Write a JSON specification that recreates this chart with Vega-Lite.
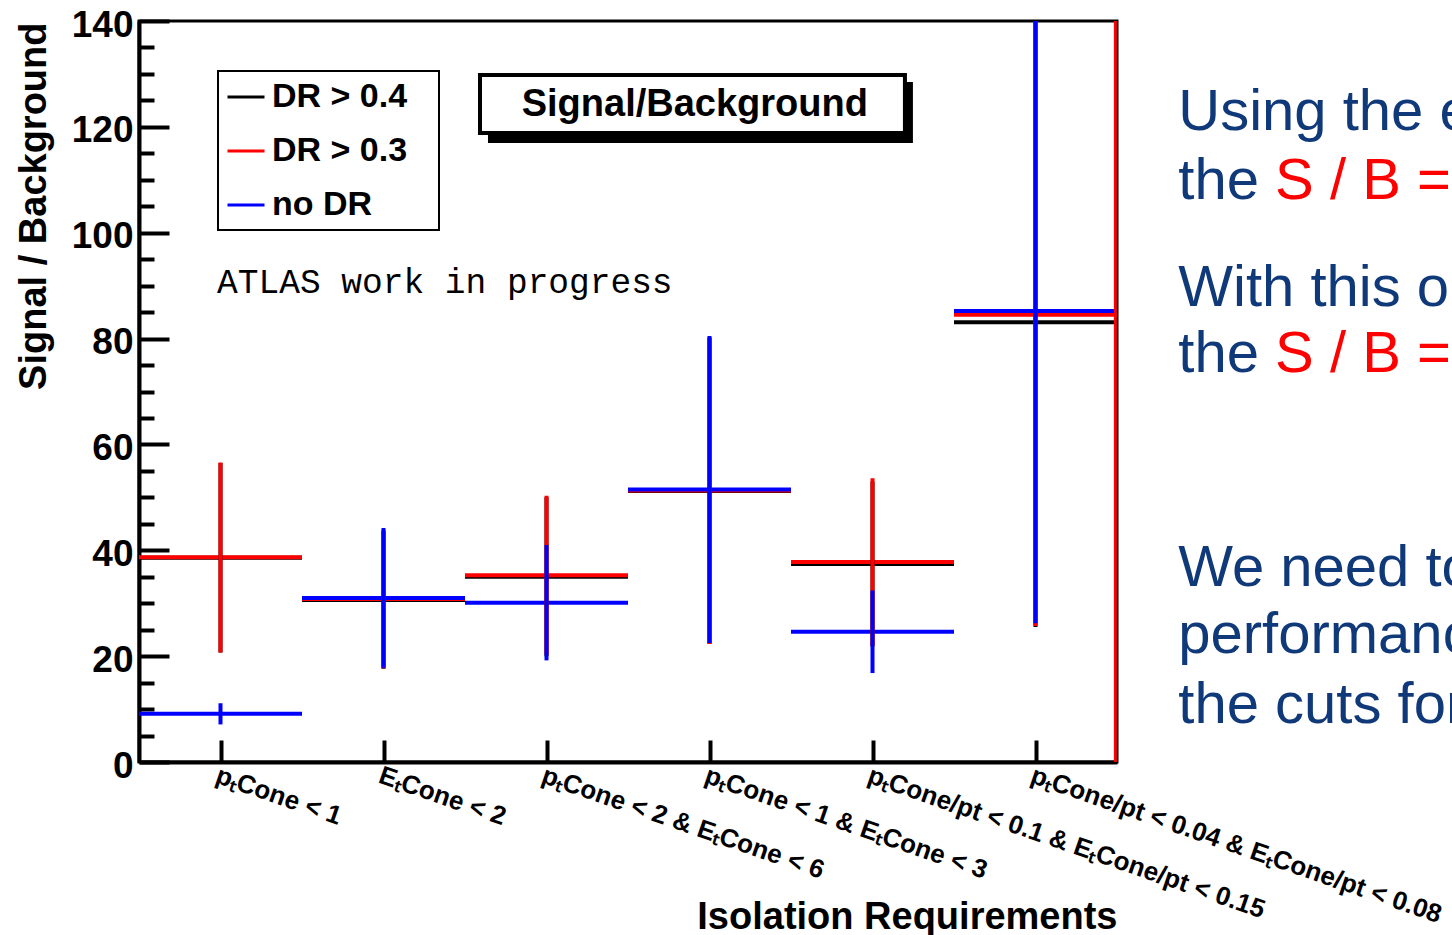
{
  "$schema": "https://vega.github.io/schema/vega-lite/v6.json",
  "width": 978,
  "height": 741,
  "autosize": {"type": "none"},
  "padding": {"left": 139, "top": 21, "right": 335, "bottom": 173},
  "background": "white",
  "config": {
    "view": {"stroke": "black", "strokeWidth": 3},
    "font": "Liberation Sans",
    "axis": {"domainColor": "black", "domainWidth": 4, "tickColor": "black", "tickWidth": 4, "labelColor": "black", "titleColor": "black", "grid": false, "labelFont": "Liberation Sans", "titleFont": "Liberation Sans"}
  },
  "datasets": {
    "bins": [
      {"bin": 1, "start": 0, "end": 1, "center": 0.5, "series": "DR > 0.4", "value": 38.6, "lo": 20.7, "hi": 56.5},
      {"bin": 2, "start": 1, "end": 2, "center": 1.5, "series": "DR > 0.4", "value": 30.6, "lo": 17.6, "hi": 43.6},
      {"bin": 3, "start": 2, "end": 3, "center": 2.5, "series": "DR > 0.4", "value": 35.0, "lo": 20.0, "hi": 50.0},
      {"bin": 4, "start": 3, "end": 4, "center": 3.5, "series": "DR > 0.4", "value": 51.2, "lo": 22.3, "hi": 80.1},
      {"bin": 5, "start": 4, "end": 5, "center": 4.5, "series": "DR > 0.4", "value": 37.4, "lo": 21.8, "hi": 53.0},
      {"bin": 6, "start": 5, "end": 6, "center": 5.5, "series": "DR > 0.4", "value": 83.1, "lo": 25.5, "hi": 140.7},
      {"bin": 1, "start": 0, "end": 1, "center": 0.5, "series": "DR > 0.3", "value": 38.7, "lo": 20.7, "hi": 56.6},
      {"bin": 2, "start": 1, "end": 2, "center": 1.5, "series": "DR > 0.3", "value": 30.8, "lo": 17.7, "hi": 43.9},
      {"bin": 3, "start": 2, "end": 3, "center": 2.5, "series": "DR > 0.3", "value": 35.3, "lo": 20.3, "hi": 50.3},
      {"bin": 4, "start": 3, "end": 4, "center": 3.5, "series": "DR > 0.3", "value": 51.3, "lo": 22.3, "hi": 80.3},
      {"bin": 5, "start": 4, "end": 5, "center": 4.5, "series": "DR > 0.3", "value": 37.8, "lo": 22.0, "hi": 53.6},
      {"bin": 6, "start": 5, "end": 6, "center": 5.5, "series": "DR > 0.3", "value": 84.5, "lo": 25.7, "hi": 143.3},
      {"bin": 1, "start": 0, "end": 1, "center": 0.5, "series": "no DR", "value": 9.1, "lo": 7.1, "hi": 11.1},
      {"bin": 2, "start": 1, "end": 2, "center": 1.5, "series": "no DR", "value": 31.0, "lo": 17.8, "hi": 44.2},
      {"bin": 3, "start": 2, "end": 3, "center": 2.5, "series": "no DR", "value": 30.1, "lo": 19.2, "hi": 41.0},
      {"bin": 4, "start": 3, "end": 4, "center": 3.5, "series": "no DR", "value": 51.5, "lo": 22.5, "hi": 80.5},
      {"bin": 5, "start": 4, "end": 5, "center": 4.5, "series": "no DR", "value": 24.6, "lo": 16.8, "hi": 32.4},
      {"bin": 6, "start": 5, "end": 6, "center": 5.5, "series": "no DR", "value": 85.2, "lo": 26.2, "hi": 144.2}
    ]
  },
  "layer": [
    {
      "data": {"values": [{}]},
      "mark": {"type": "rect", "fill": "white", "stroke": "black", "strokeWidth": 2},
      "encoding": {
        "x": {"datum": 0.4847}, "x2": {"datum": 1.8405},
        "y": {"datum": 130.55}, "y2": {"datum": 100.51}
      }
    },
    {
      "data": {"name": "bins"},
      "mark": {"type": "rule", "strokeWidth": 4, "strokeCap": "butt", "clip": true},
      "encoding": {
        "x": {
          "field": "start", "type": "quantitative",
          "scale": {"domain": [0, 6], "nice": false, "zero": false},
          "axis": {
            "values": [0.5, 1.5, 2.5, 3.5, 4.5, 5.5],
            "tickCount": 10,
            "labelExpr": "['p\u209cCone < 1','E\u209cCone < 2','p\u209cCone < 2 & E\u209cCone < 6','p\u209cCone < 1 & E\u209cCone < 3','p\u209cCone/pt < 0.1 & E\u209cCone/pt < 0.15','p\u209cCone/pt < 0.04 & E\u209cCone/pt < 0.08'][floor(datum.value)]",
            "tickSize": -22,
            "labelPadding": 22,
            "labelAngle": 19,
            "labelAlign": "left",
            "labelBaseline": "top",
            "labelFontSize": 26,
            "labelFontWeight": "bold",
            "labelOverlap": false,
            "labelFlush": false,
            "labelBound": false,
            "labelLimit": 0,
            "title": "Isolation Requirements",
            "titleFontSize": 38,
            "titleFontWeight": "bold",
            "titleAnchor": "end",
            "titleAlign": "right",
            "titleBaseline": "alphabetic",
            "titleX": 978,
            "titleY": 166
          }
        },
        "x2": {"field": "end"},
        "y": {
          "field": "value", "type": "quantitative",
          "scale": {"domain": [0, 140], "nice": false, "zero": true},
          "axis": {
            "values": [0, 5, 10, 15, 20, 25, 30, 35, 40, 45, 50, 55, 60, 65, 70, 75, 80, 85, 90, 95, 100, 105, 110, 115, 120, 125, 130, 135, 140],
            "tickCount": 40,
            "labelExpr": "datum.value % 20 === 0 ? datum.label : ''",
            "tickSize": {"condition": {"test": "datum.value % 20 === 0", "value": -30}, "value": -15},
            "labelPadding": 36,
            "labelFontSize": 37,
            "labelFontWeight": "bold",
            "labelOverlap": false,
            "labelFlush": false,
            "labelOffset": 4,
            "title": "Signal / Background",
            "titleFontSize": 38,
            "titleFontWeight": "bold",
            "titleAngle": -90,
            "titleAlign": "right",
            "titleBaseline": "alphabetic",
            "titleX": -94,
            "titleY": 1
          }
        },
        "color": {
          "field": "series", "type": "nominal",
          "scale": {"domain": ["DR > 0.4", "DR > 0.3", "no DR"], "range": ["#000000", "#ff0000", "#0000ff"]},
          "legend": {
            "title": null, "orient": "none", "legendX": 80, "legendY": 49,
            "symbolType": "stroke", "symbolSize": 1369, "symbolStrokeWidth": 3,
            "labelFontSize": 34, "labelFontWeight": "bold", "labelFont": "Liberation Sans", "labelColor": "black",
            "labelOffset": 6, "rowPadding": 17, "padding": 7,
            "labelLimit": 0
          }
        }
      }
    },
    {
      "data": {"name": "bins"},
      "mark": {"type": "rule", "strokeWidth": 4, "strokeCap": "butt", "clip": true},
      "encoding": {
        "x": {"field": "center", "type": "quantitative"},
        "y": {"field": "lo", "type": "quantitative"},
        "y2": {"field": "hi"},
        "color": {"field": "series", "type": "nominal"}
      }
    },
    {
      "data": {"values": [{}]},
      "mark": {"type": "rule", "color": "#ff0000", "strokeWidth": 3},
      "encoding": {
        "x": {"datum": 5.99},
        "y": {"datum": 0},
        "y2": {"datum": 140}
      }
    },
    {
      "data": {"values": [{}]},
      "mark": {"type": "rect", "fill": "black"},
      "encoding": {
        "x": {"datum": 2.141}, "x2": {"datum": 4.748},
        "y": {"datum": 128.47}, "y2": {"datum": 116.95}
      }
    },
    {
      "data": {"values": [{}]},
      "mark": {"type": "rect", "fill": "white", "stroke": "black", "strokeWidth": 4},
      "encoding": {
        "x": {"datum": 2.092}, "x2": {"datum": 4.699},
        "y": {"datum": 129.8}, "y2": {"datum": 118.84}
      }
    },
    {
      "data": {"values": [{}]},
      "mark": {"type": "text", "fontSize": 38, "fontWeight": "bold", "font": "Liberation Sans", "align": "center", "baseline": "alphabetic", "color": "black"},
      "encoding": {
        "x": {"datum": 3.41},
        "y": {"datum": 122.05},
        "text": {"value": "Signal/Background"}
      }
    },
    {
      "data": {"values": [{}]},
      "mark": {"type": "text", "fontSize": 34.5, "font": "Liberation Mono", "align": "left", "baseline": "alphabetic", "color": "black"},
      "encoding": {
        "x": {"datum": 0.479},
        "y": {"datum": 88.61},
        "text": {"value": "ATLAS work in progress"}
      }
    },
    {
      "data": {"values": [{}]},
      "mark": {"type": "text", "fontSize": 58, "font": "Liberation Sans", "align": "left", "baseline": "alphabetic", "color": "#10397a"},
      "encoding": {"x": {"datum": 6.376}, "y": {"datum": 119.41}, "text": {"value": "Using the e"}}
    },
    {
      "data": {"values": [{}]},
      "mark": {"type": "text", "fontSize": 58, "font": "Liberation Sans", "align": "left", "baseline": "alphabetic", "color": "#10397a"},
      "encoding": {"x": {"datum": 6.376}, "y": {"datum": 106.37}, "text": {"value": "the"}}
    },
    {
      "data": {"values": [{}]},
      "mark": {"type": "text", "fontSize": 58, "font": "Liberation Sans", "align": "left", "baseline": "alphabetic", "color": "#ff0000"},
      "encoding": {"x": {"datum": 6.97}, "y": {"datum": 106.37}, "text": {"value": "S / B ="}}
    },
    {
      "data": {"values": [{}]},
      "mark": {"type": "text", "fontSize": 58, "font": "Liberation Sans", "align": "left", "baseline": "alphabetic", "color": "#10397a"},
      "encoding": {"x": {"datum": 6.376}, "y": {"datum": 86.23}, "text": {"value": "With this o"}}
    },
    {
      "data": {"values": [{}]},
      "mark": {"type": "text", "fontSize": 58, "font": "Liberation Sans", "align": "left", "baseline": "alphabetic", "color": "#10397a"},
      "encoding": {"x": {"datum": 6.376}, "y": {"datum": 73.68}, "text": {"value": "the"}}
    },
    {
      "data": {"values": [{}]},
      "mark": {"type": "text", "fontSize": 58, "font": "Liberation Sans", "align": "left", "baseline": "alphabetic", "color": "#ff0000"},
      "encoding": {"x": {"datum": 6.97}, "y": {"datum": 73.68}, "text": {"value": "S / B ="}}
    },
    {
      "data": {"values": [{}]},
      "mark": {"type": "text", "fontSize": 58, "font": "Liberation Sans", "align": "left", "baseline": "alphabetic", "color": "#10397a"},
      "encoding": {"x": {"datum": 6.376}, "y": {"datum": 33.25}, "text": {"value": "We need to"}}
    },
    {
      "data": {"values": [{}]},
      "mark": {"type": "text", "fontSize": 58, "font": "Liberation Sans", "align": "left", "baseline": "alphabetic", "color": "#10397a"},
      "encoding": {"x": {"datum": 6.376}, "y": {"datum": 20.59}, "text": {"value": "performance"}}
    },
    {
      "data": {"values": [{}]},
      "mark": {"type": "text", "fontSize": 58, "font": "Liberation Sans", "align": "left", "baseline": "alphabetic", "color": "#10397a"},
      "encoding": {"x": {"datum": 6.376}, "y": {"datum": 7.37}, "text": {"value": "the cuts for"}}
    }
  ]
}
